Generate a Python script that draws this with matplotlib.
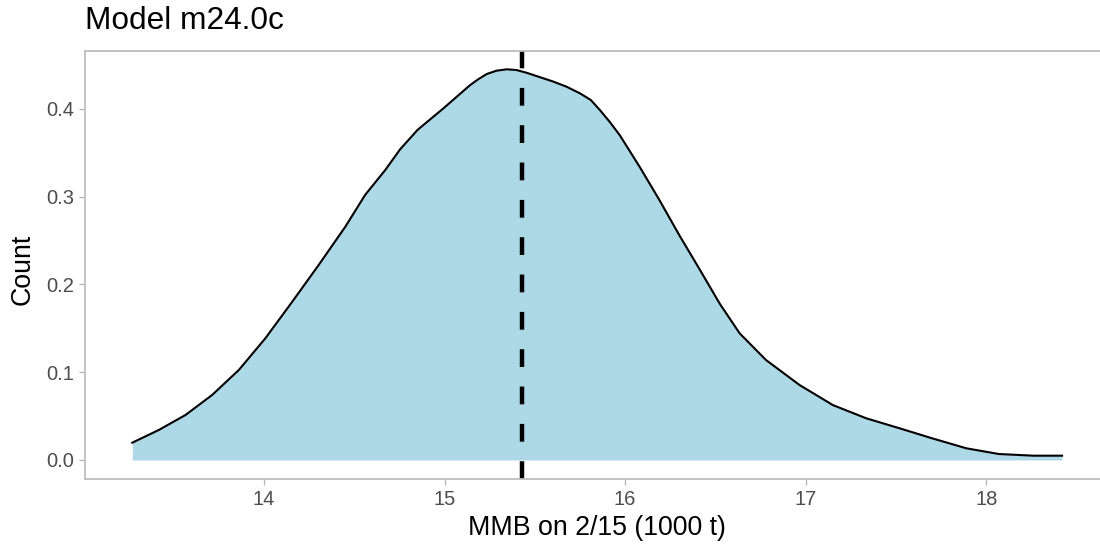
import numpy as np
import matplotlib
matplotlib.use("Agg")
import matplotlib.pyplot as plt

plt.rcParams['font.family'] = ['Liberation Sans', 'DejaVu Sans']

# density curve
mmb = [13.27, 13.417, 13.565, 13.712, 13.86, 14.007, 14.155, 14.302, 14.45, 14.56,
       14.67, 14.754, 14.85, 14.993, 15.141, 15.185, 15.233, 15.287, 15.344, 15.398,
       15.455, 15.602, 15.675, 15.75, 15.81, 15.86, 15.915, 15.97, 16.08, 16.19,
       16.30, 16.41, 16.524, 16.634, 16.78, 16.966, 17.15, 17.335, 17.52, 17.70,
       17.89, 18.07, 18.26, 18.42]
density = [0.0197, 0.0342, 0.0513, 0.074, 0.1025, 0.1386, 0.180, 0.222, 0.2657, 0.302,
           0.330, 0.354, 0.376, 0.4005, 0.427, 0.4335, 0.4396, 0.4434, 0.445, 0.4442,
           0.441, 0.431, 0.4252, 0.4176, 0.410, 0.3986, 0.385, 0.370, 0.334, 0.296,
           0.256, 0.218, 0.178, 0.1443, 0.1139, 0.0854, 0.0626, 0.0475, 0.0361, 0.0247,
           0.0133, 0.0068, 0.0049, 0.0049]
median_mmb = 15.427

x_ticks = [14, 15, 16, 17, 18]
y_ticks = [0.0, 0.1, 0.2, 0.3, 0.4]

W, H = 1100, 548
fig = plt.figure(figsize=(W / 100, H / 100), dpi=100)
ax = fig.add_axes([85 / W, (H - 479.3) / H, 1024 / W, 428.6 / H])

ax.fill_between(mmb, 0, density, color='#ADD8E6', linewidth=0)
ax.plot(mmb, density, color='black', lw=1.5, solid_joinstyle='round')
ax.axvline(median_mmb, color='black', lw=3.2, dashes=(4, 4.4))

ax.set_xlim(13.008, 18.68)
ax.set_ylim(-0.022, 0.4662)
ax.set_xticks(x_ticks)
ax.set_yticks(y_ticks)
ax.set_xticklabels([str(t) for t in x_ticks])
ax.set_yticklabels([f"{t:.1f}" for t in y_ticks])

for side in ['left', 'top', 'bottom']:
    ax.spines[side].set_color('#BDBDBD')
    ax.spines[side].set_linewidth(1.3)
ax.spines['right'].set_visible(False)
ax.tick_params(colors='#B3B3B3', labelcolor='#4D4D4D', labelsize=14.5,
               length=4, width=0.9, pad=4)

fig.text(85 / W, 1 - 29.3 / H, "Model m24.0c", fontsize=22.8, ha='left', va='baseline')
fig.text(597 / W, 1 - 535 / H, "MMB on 2/15 (1000 t)", fontsize=19.3, ha='center', va='baseline')
fig.text(22.6 / W, 1 - 269 / H, "Count", fontsize=19.3, rotation=90, ha='center', va='center')

fig.savefig("out.png", dpi=100)
